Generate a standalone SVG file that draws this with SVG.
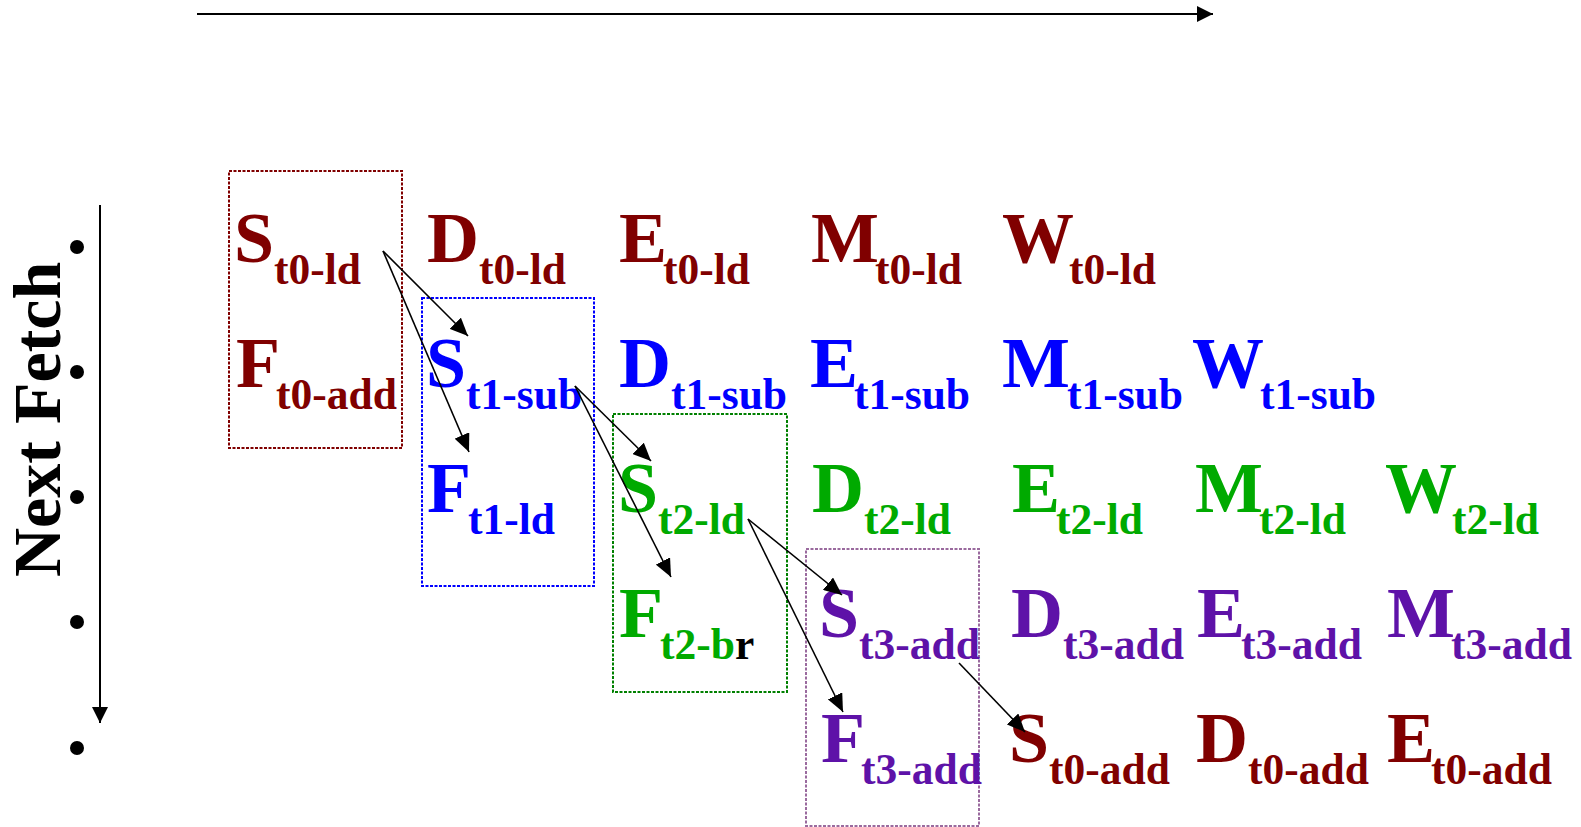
<svg xmlns="http://www.w3.org/2000/svg" width="1581" height="827" viewBox="0 0 1581 827">
<style>
text{font-family:"Liberation Serif","Times New Roman",serif;font-weight:bold;font-size:72px}
.sub{font-size:43.5px}
.r{fill:#800000}
.b{fill:#0000FF}
.g{fill:#00AA00}
.p{fill:#5E12A8}
.k{fill:#000000}
.box{fill:none;stroke-width:2;stroke-dasharray:3 1.5}
.conn{stroke:#000;stroke-width:1.6;fill:none}
</style>
<defs>
<marker id="ah" markerUnits="userSpaceOnUse" markerWidth="19" markerHeight="16" refX="18" refY="8" orient="auto">
<path d="M0,0 L18,8 L0,16 z" fill="#000"/>
</marker>
<marker id="ah2" markerUnits="userSpaceOnUse" markerWidth="18" markerHeight="18" refX="16" refY="8" orient="auto">
<path d="M0,0 L16,8 L0,16 z" fill="#000"/>
</marker>
</defs>

<g id="axes">
<line x1="197" y1="14" x2="1213" y2="14" stroke="#000" stroke-width="2" marker-end="url(#ah2)"/>
<line x1="100" y1="205" x2="100" y2="723" stroke="#000" stroke-width="2" marker-end="url(#ah2)"/>
<text transform="translate(60,577) rotate(-90)" style="font-size:68px" class="k">Next Fetch</text>
<circle cx="77" cy="247" r="7"/>
<circle cx="77" cy="372" r="7"/>
<circle cx="77" cy="497" r="7"/>
<circle cx="77" cy="622" r="7"/>
<circle cx="77" cy="748" r="7"/>
</g>

<g id="boxes">
<rect id="box-t0" class="box" x="229" y="171" width="173" height="277" stroke="#800000"/>
<rect id="box-t1" class="box" x="422" y="298" width="172" height="288" stroke="#0000FF"/>
<rect id="box-t2" class="box" x="613" y="414" width="174" height="278" stroke="#008000"/>
<rect id="box-t3" class="box" x="806" y="549" width="173" height="277" stroke="#9A6A9E"/>
</g>

<!-- Row 1: t0-ld -->
<g id="S-t0-ld"><text x="234" y="262" class="r">S<tspan class="sub" dy="22">t0-ld</tspan></text></g>
<g id="D-t0-ld"><text x="427" y="262" class="r">D<tspan class="sub" dy="22">t0-ld</tspan></text></g>
<g id="E-t0-ld"><text x="619" y="262" class="r">E<tspan class="sub" dx="-4" dy="22">t0-ld</tspan></text></g>
<g id="M-t0-ld"><text x="811" y="262" class="r">M<tspan class="sub" dx="-4" dy="22">t0-ld</tspan></text></g>
<g id="W-t0-ld"><text x="1002" y="262" class="r">W<tspan class="sub" dx="-5" dy="22">t0-ld</tspan></text></g>

<!-- Row 2 -->
<g id="F-t0-add"><text x="236" y="387" class="r">F<tspan class="sub" dx="-4" dy="22">t0-add</tspan></text></g>
<g id="S-t1-sub"><text x="426" y="387" class="b">S<tspan class="sub" dy="22">t1-sub</tspan></text></g>
<g id="D-t1-sub"><text x="619" y="387" class="b">D<tspan class="sub" dy="22">t1-sub</tspan></text></g>
<g id="E-t1-sub"><text x="810" y="387" class="b">E<tspan class="sub" dx="-4" dy="22">t1-sub</tspan></text></g>
<g id="M-t1-sub"><text x="1002" y="387" class="b">M<tspan class="sub" dx="-3" dy="22">t1-sub</tspan></text></g>
<g id="W-t1-sub"><text x="1192" y="387" class="b">W<tspan class="sub" dx="-4" dy="22">t1-sub</tspan></text></g>

<!-- Row 3 -->
<g id="F-t1-ld"><text x="427" y="512" class="b">F<tspan class="sub" dx="-3" dy="22">t1-ld</tspan></text></g>
<g id="S-t2-ld"><text x="618" y="512" class="g">S<tspan class="sub" dy="22">t2-ld</tspan></text></g>
<g id="D-t2-ld"><text x="812" y="512" class="g">D<tspan class="sub" dy="22">t2-ld</tspan></text></g>
<g id="E-t2-ld"><text x="1012" y="512" class="g">E<tspan class="sub" dx="-4" dy="22">t2-ld</tspan></text></g>
<g id="M-t2-ld"><text x="1195" y="512" class="g">M<tspan class="sub" dx="-4" dy="22">t2-ld</tspan></text></g>
<g id="W-t2-ld"><text x="1385" y="512" class="g">W<tspan class="sub" dx="-5" dy="22">t2-ld</tspan></text></g>

<!-- Row 4 -->
<g id="F-t2-br"><text x="619" y="637" class="g">F<tspan class="sub" dx="-3" dy="22">t2-b</tspan><tspan class="sub k">r</tspan></text></g>
<g id="S-t3-add"><text x="819" y="637" class="p">S<tspan class="sub" dy="22">t3-add</tspan></text></g>
<g id="D-t3-add"><text x="1011" y="637" class="p">D<tspan class="sub" dy="22">t3-add</tspan></text></g>
<g id="E-t3-add"><text x="1197" y="637" class="p">E<tspan class="sub" dx="-4" dy="22">t3-add</tspan></text></g>
<g id="M-t3-add"><text x="1387" y="637" class="p">M<tspan class="sub" dx="-4" dy="22">t3-add</tspan></text></g>

<!-- Row 5 -->
<g id="F-t3-add"><text x="821" y="762" class="p">F<tspan class="sub" dx="-4" dy="22">t3-add</tspan></text></g>
<g id="S-t0-add"><text x="1009" y="762" class="r">S<tspan class="sub" dy="22">t0-add</tspan></text></g>
<g id="D-t0-add"><text x="1196" y="762" class="r">D<tspan class="sub" dy="22">t0-add</tspan></text></g>
<g id="E-t0-add"><text x="1387" y="762" class="r">E<tspan class="sub" dx="-4" dy="22">t0-add</tspan></text></g>

<g id="connectors" class="conn">
<line x1="383" y1="251" x2="468" y2="336" marker-end="url(#ah)"/>
<line x1="383" y1="251" x2="469" y2="452" marker-end="url(#ah)"/>
<line x1="575" y1="386" x2="651" y2="461" marker-end="url(#ah)"/>
<line x1="575" y1="386" x2="671" y2="577" marker-end="url(#ah)"/>
<line x1="748" y1="519" x2="842" y2="595" marker-end="url(#ah)"/>
<line x1="748" y1="519" x2="843" y2="712" marker-end="url(#ah)"/>
<line x1="959" y1="663" x2="1025" y2="732" marker-end="url(#ah)"/>
</g>
</svg>
